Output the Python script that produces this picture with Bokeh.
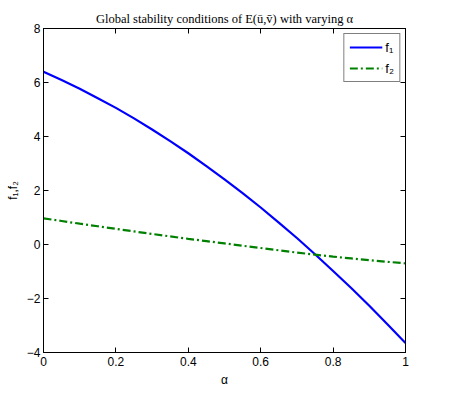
from bokeh.plotting import figure
from bokeh.models import LinearAxis, Range1d, FixedTicker, Legend, LegendItem
from bokeh.embed import file_html
from bokeh.resources import INLINE

alpha = [0.0, 0.05, 0.1, 0.15, 0.2, 0.25, 0.3, 0.35, 0.4, 0.45, 0.5,
         0.55, 0.6, 0.65, 0.7, 0.75, 0.8, 0.85, 0.9, 0.95, 1.0]
f1 = [6.40, 6.09, 5.77, 5.42, 5.06, 4.67, 4.26, 3.83, 3.38, 2.90, 2.41,
      1.90, 1.37, 0.81, 0.24, -0.36, -0.98, -1.61, -2.27, -2.95, -3.65]
f2 = [0.97, 0.87, 0.77, 0.675, 0.58, 0.485, 0.39, 0.30, 0.21, 0.125, 0.04,
      -0.045, -0.13, -0.215, -0.30, -0.375, -0.45, -0.515, -0.58, -0.64, -0.70]
x_ticks = [0, 0.2, 0.4, 0.6, 0.8, 1]
y_ticks = [-4, -2, 0, 2, 4, 6, 8]
title_text = "Global stability conditions of E(ū,v̄) with varying α"

p = figure(width=450, height=388, frame_width=362, frame_height=324,
           output_backend="svg", toolbar_location=None,
           x_range=Range1d(0, 1), y_range=Range1d(-4, 8),
           min_border_left=43, min_border_right=45, min_border_top=28, min_border_bottom=36)
p.title.text = title_text
p.title.align = "center"
p.title.text_font = "Liberation Serif"
p.title.text_font_style = "normal"
p.title.text_font_size = "12.5px"
p.title.text_color = "black"
p.title.offset = 0
p.title.standoff = 6

p.grid.visible = False
p.outline_line_color = "black"
p.outline_line_width = 1
p.background_fill_color = "white"
p.border_fill_color = "white"

for ax in [p.xaxis[0], p.yaxis[0]]:
    ax.major_tick_in = 5
    ax.major_tick_out = 0
    ax.minor_tick_in = 0
    ax.minor_tick_out = 0
    ax.major_label_text_font = "Liberation Sans"
    ax.major_label_text_font_size = "12px"
    ax.major_label_text_color = "black"
    ax.axis_label_text_font = "Liberation Sans"
    ax.axis_label_text_font_size = "12px"
    ax.axis_label_text_font_style = "normal"
    ax.axis_label_text_color = "black"
    ax.axis_line_color = "black"
    ax.major_tick_line_color = "black"

p.xaxis[0].ticker = FixedTicker(ticks=x_ticks)
p.yaxis[0].ticker = FixedTicker(ticks=y_ticks)
p.xaxis[0].major_label_overrides = {0: "0", 0.2: "0.2", 0.4: "0.4", 0.6: "0.6", 0.8: "0.8", 1: "1"}
p.yaxis[0].major_label_overrides = {t: ("−" + str(-t) if t < 0 else str(t)) for t in y_ticks}
p.xaxis[0].axis_label = "α"
p.yaxis[0].axis_label = "f₁,f₂"
p.xaxis[0].major_label_standoff = 4
p.yaxis[0].major_label_standoff = 3
p.xaxis[0].axis_label_standoff = 4
p.yaxis[0].axis_label_standoff = 4

for loc, ticks in [("right", y_ticks), ("above", x_ticks)]:
    ax = LinearAxis(ticker=FixedTicker(ticks=ticks),
                    major_label_overrides={t: "" for t in ticks},
                    major_tick_in=5, major_tick_out=0, minor_tick_in=0, minor_tick_out=0,
                    axis_line_color="black", major_tick_line_color="black",
                    major_label_standoff=0)
    p.add_layout(ax, loc)

r1 = p.line(alpha, f1, line_color="#0000ff", line_width=2.2)
r2 = p.line(alpha, f2, line_color="#008000", line_width=2.2, line_dash="8 3 2 3")

legend = Legend(items=[LegendItem(label="f₁", renderers=[r1]),
                       LegendItem(label="f₂", renderers=[r2])],
                location="top_right")
legend.label_text_font = "Liberation Sans"
legend.label_text_font_size = "13px"
legend.label_text_color = "black"
legend.border_line_color = "black"
legend.border_line_width = 1
legend.glyph_width = 33
legend.label_width = 8
legend.label_standoff = 3
legend.spacing = 5
legend.padding = 5
legend.margin = 5
legend.label_height = 16
legend.glyph_height = 16
p.add_layout(legend)

open("out.html", "w").write(file_html(p, INLINE))
